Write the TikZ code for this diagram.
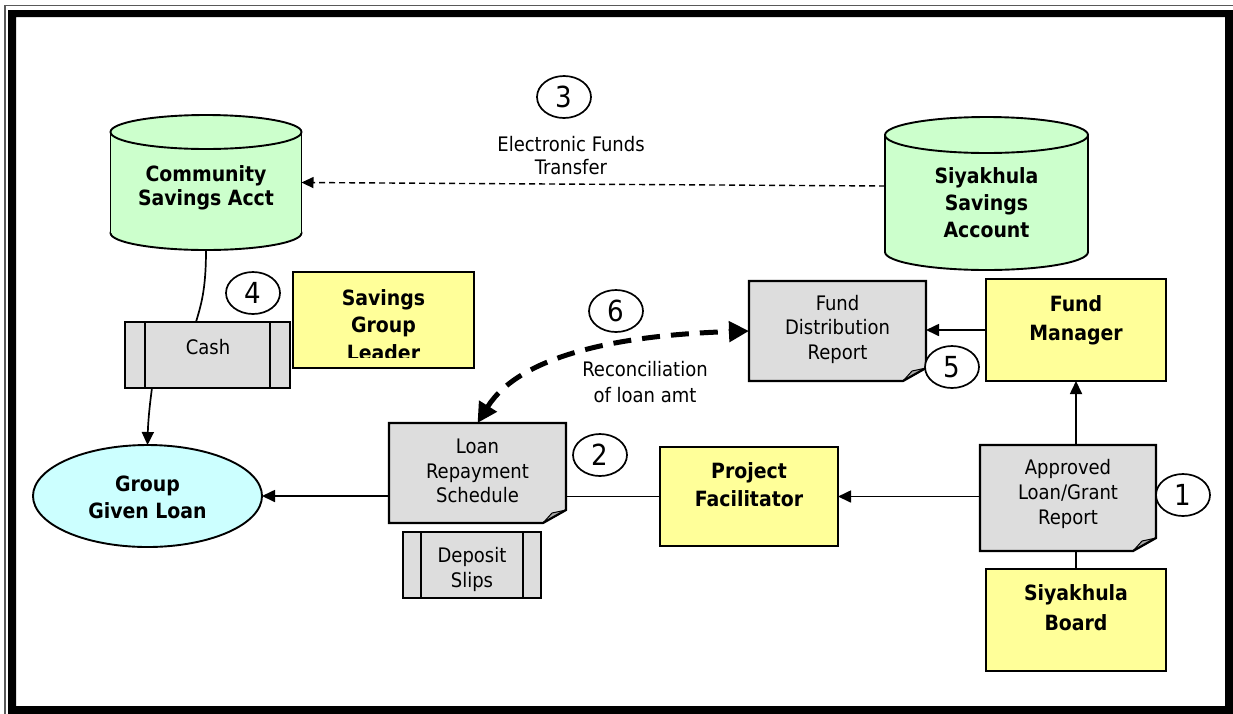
\documentclass[tikz,border=0pt]{standalone}
\usepackage{fontspec}
\setmainfont{DejaVu Sans Condensed}
\usetikzlibrary{arrows.meta,shapes.geometric,calc}
\definecolor{cgreen}{HTML}{CCFFCC}
\definecolor{cyellow}{HTML}{FFFF99}
\definecolor{cgray}{HTML}{DDDDDD}
\definecolor{ccyan}{HTML}{CCFFFF}
\definecolor{cfold}{HTML}{A8A8A8}
\tikzset{
  every node/.style={inner sep=0pt, outer sep=0pt},
  conn/.style={line width=1.7pt},
  arr/.style={conn, -{Triangle[length=13pt,width=12pt]}},
  dasharr/.style={line width=1.4pt, dash pattern=on 6pt off 4pt, -{Triangle[length=12pt,width=11pt]}},
  bigdash/.style={line width=5pt, dash pattern=on 18pt off 11pt, {Triangle[length=20pt,width=20pt]}-{Triangle[length=20pt,width=20pt]}},
  ybox/.style={draw, line width=2.2pt, fill=cyellow},
  gbox/.style={draw, line width=2.2pt, fill=cgray},
  rt/.style={font=\fontsize{20}{24.5}\selectfont, align=center},
  bt/.style={font=\bfseries\fontsize{21}{29}\selectfont, align=center},
  num/.style={draw, ellipse, line width=1.7pt, fill=white, minimum width=54pt, minimum height=42pt, font=\fontsize{29}{30}\selectfont},
}
% cylinder: cx, rx, top centre y, bottom centre y, ry
\newcommand\mycyl[5]{%
  \filldraw[fill=cgreen, line width=1.9pt] (#1,#4) ellipse ({#2} and {#5});
  \fill[cgreen] (#1-#2,#3) rectangle (#1+#2,#4);
  \draw[line width=1.9pt] (#1-#2,#3) -- (#1-#2,#4) (#1+#2,#3) -- (#1+#2,#4);
  \filldraw[fill=cgreen, line width=1.9pt] (#1,#3) ellipse ({#2} and {#5});
}
% document with folded corner: name, x1, y1, x2, y2
\newcommand\mydoc[5]{%
  \fill[cgray] (#2,#3) -- (#4,#3) -- (#4,#5-13) -- (#4-23,#5) -- (#2,#5) -- cycle;
  \filldraw[fill=cfold, line width=1pt, line join=round] (#4-23,#5) -- (#4,#5-13) -- (#4-14,#5-10) -- cycle;
  \draw[line width=2.2pt, line join=miter] (#2,#3) -- (#4,#3) -- (#4,#5-13) -- (#4-23,#5) -- (#2,#5) -- cycle;
  \node[minimum width={#4-#2}, minimum height={#5-#3}] (#1) at ({(#2+#4)/2},{(#3+#5)/2}) {};
}
% stored-data box with two inner bars: name, x1, y1, x2, y2, bar inset
\newcommand\mybars[6]{%
  \node[gbox, minimum width={#4-#2}, minimum height={#5-#3}] (#1) at ({(#2+#4)/2},{(#3+#5)/2}) {};
  \draw[line width=2.2pt] (#2+#6,#3) -- (#2+#6,#5) (#4-#6,#3) -- (#4-#6,#5);
}
\begin{document}
\begin{tikzpicture}[x=1pt,y=-1pt]
\useasboundingbox (0,0) rectangle (1233,713);
% frame
\fill[white] (0,0) rectangle (1233,713);
\draw[line width=1.2pt, black!65] (5,720) -- (5,5.5) -- (1240,5.5);
\fill[black, even odd rule] (8,10) rectangle (1240,720) (16,17) rectangle (1225,706);

% cylinders
\mycyl{206}{95.5}{132}{233}{17}
\node[minimum width=191, minimum height=135] (csa) at (206,182.5) {};
\node[bt, font=\bfseries\fontsize{21}{24}\selectfont] (csatext) at (206,188) {Community\\Savings Acct};

\mycyl{986.5}{101.5}{135}{252}{18}
\node[minimum width=203, minimum height=153] (ssa) at (986.5,193.5) {};
\begin{scope}
\clip (880,150) rectangle (1100,238);
\node[bt, font=\bfseries\fontsize{21}{27}\selectfont] (ssatext) at (986.5,203) {Siyakhula\\Savings\\Account};
\end{scope}

% cash and savings group leader
\mybars{cash}{125}{322}{290}{388}{20}
\node[rt] (cashtext) at (208,347) {Cash};
\node[ybox, minimum width=181, minimum height=96] (sgl) at (383.5,320) {};
\begin{scope}
\clip (295,274) rectangle (472,357);
\node[bt, font=\bfseries\fontsize{21}{27.5}\selectfont] (sgltext) at (383.5,325) {Savings\\Group\\Leader};
\end{scope}

% group given loan
\node[draw, ellipse, line width=1.9pt, fill=ccyan, minimum width=229, minimum height=102] (ggl) at (147.5,496) {};
\node[bt, font=\bfseries\fontsize{21}{27}\selectfont] (ggltext) at (147.5,497) {Group\\Given Loan};

% loan repayment schedule
\mydoc{lrs}{389}{423}{566}{523}
\node[rt] (lrstext) at (477.5,471) {Loan\\Repayment\\Schedule};
\mybars{dep}{403}{532}{541}{598}{18}
\node[rt, font=\fontsize{20}{25}\selectfont] (deptext) at (472,569) {Deposit\\Slips};

% project facilitator
\node[ybox, minimum width=178, minimum height=99] (pf) at (749,496.5) {};
\node[bt, font=\bfseries\fontsize{21}{28}\selectfont] (pftext) at (749,485) {Project\\Facilitator};

% approved loan/grant report
\mydoc{alg}{980}{445}{1156}{551}
\node[rt, font=\fontsize{20}{25}\selectfont] (algtext) at (1068,494) {Approved\\Loan/Grant\\Report};

% siyakhula board
\node[ybox, minimum width=180, minimum height=102] (sb) at (1076,620) {};
\node[bt, font=\bfseries\fontsize{21}{30}\selectfont] (sbtext) at (1076,608) {Siyakhula\\Board};

% fund manager
\node[ybox, minimum width=180, minimum height=102] (fm) at (1076,330) {};
\node[bt, font=\bfseries\fontsize{21}{29}\selectfont] (fmtext) at (1076,320) {Fund\\Manager};

% fund distribution report
\mydoc{fdr}{749}{281}{926}{381}
\node[rt] (fdrtext) at (837.5,329) {Fund\\Distribution\\Report};

% connectors
\draw[dasharr] ([yshift=7.5pt]ssa.west) -- (csa.east);
\draw[conn] (csa.south) .. controls (206,290) and (201,305) .. ([xshift=-11.5pt]cash.north);
\draw[arr] ([xshift=-55.5pt]cash.south) .. controls (149,410) and (148,425) .. (ggl.north);
\draw[arr] (lrs.west |- ggl.east) -- (ggl.east);
\draw[conn] (pf.west) -- (pf.west -| lrs.east);
\draw[arr] (alg.west |- pf.east) -- (pf.east);
\draw[conn] (sb.north) -- (sb.north |- alg.south);
\draw[arr] (fm.south |- alg.north) -- (fm.south);
\draw[arr] (fm.west) -- (fm.west -| fdr.east);
\draw[bigdash] (lrs.north) .. controls (520,355) and (620,335) .. (fdr.west);

% labels
\node[rt, font=\fontsize{20}{23}\selectfont] (eft) at (571,156) {Electronic Funds\\Transfer};
\node[rt, font=\fontsize{20}{26}\selectfont] (rec) at (645,382) {Reconciliation\\of loan amt};

% step numbers
\node[num] (n1) at (1183,495) {1};
\node[num] (n2) at (600,455) {2};
\node[num] (n3) at (564,97) {3};
\node[num] (n4) at (253,293) {4};
\node[num] (n5) at (952,367) {5};
\node[num] (n6) at (616,311) {6};
\end{tikzpicture}
\end{document}
